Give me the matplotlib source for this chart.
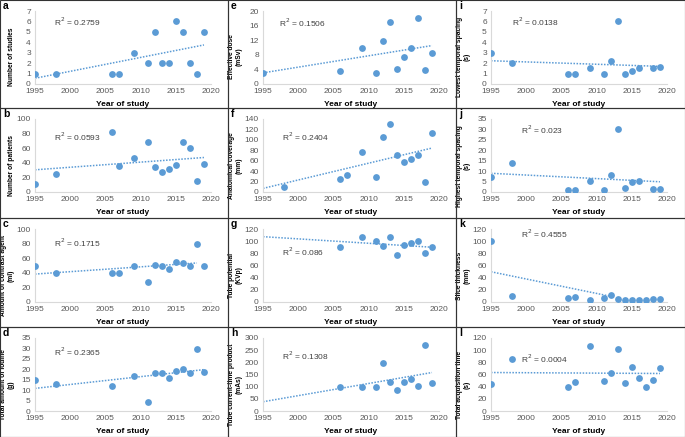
import numpy as np
import matplotlib.pyplot as plt
from matplotlib.patches import Rectangle

plt.rcParams['font.family'] = ['Liberation Sans', 'DejaVu Sans']

# datos de cada panel (año, valor)
yr_a = [1995, 1998, 2006, 2007, 2009, 2011, 2012, 2013, 2014, 2015, 2016, 2017, 2018, 2019]
val_a = [1, 1, 1, 1, 3, 2, 5, 2, 2, 6, 5, 2, 1, 5]

yr_b = [1995, 1998, 2006, 2007, 2009, 2011, 2012, 2013, 2014, 2015, 2016, 2017, 2018, 2019]
val_b = [11, 24, 82, 36, 47, 68, 34, 28, 32, 37, 68, 60, 15, 38]

yr_c = [1995, 1998, 2006, 2007, 2009, 2011, 2012, 2013, 2014, 2015, 2016, 2017, 2018, 2019]
val_c = [50, 40, 40, 40, 50, 27, 51, 50, 45, 55, 53, 50, 80, 50]

yr_d = [1995, 1998, 2006, 2009, 2011, 2012, 2013, 2014, 2015, 2016, 2017, 2018, 2019]
val_d = [15, 12.8, 12, 16.7, 4.5, 18, 18, 15.8, 19.3, 20.3, 18.3, 29.7, 18.6]

yr_e = [1995, 2006, 2009, 2011, 2012, 2013, 2014, 2015, 2016, 2017, 2018, 2019]
val_e = [3, 3.5, 10, 3, 11.8, 17, 4.2, 7.5, 10, 18.2, 3.8, 8.5]

yr_f = [1998, 2006, 2007, 2009, 2011, 2012, 2013, 2014, 2015, 2016, 2017, 2018, 2019]
val_f = [10, 24, 32, 77, 28, 105, 130, 70, 57, 63, 71, 19, 113]

yr_g = [2006, 2009, 2011, 2012, 2013, 2014, 2015, 2016, 2017, 2018, 2019]
val_g = [90, 107, 100, 92, 107, 77, 93, 97, 100, 80, 90]

yr_h = [2006, 2009, 2011, 2012, 2013, 2014, 2015, 2016, 2017, 2018, 2019]
val_h = [100, 99, 100, 196, 118, 87, 120, 133, 104, 270, 117]

yr_i = [1995, 1998, 2006, 2007, 2009, 2011, 2012, 2013, 2014, 2015, 2016, 2018, 2019]
val_i = [3, 2, 1, 1, 1.5, 1, 2.2, 6, 1, 1.25, 1.5, 1.5, 1.6]

yr_j = [1995, 1998, 2006, 2007, 2009, 2011, 2012, 2013, 2014, 2015, 2016, 2018, 2019]
val_j = [7, 14, 1, 1, 5.5, 1, 8.3, 30, 2, 5, 5.3, 1.5, 1.5]

yr_k = [1995, 1998, 2006, 2007, 2009, 2011, 2012, 2013, 2014, 2015, 2016, 2017, 2018, 2019]
val_k = [100, 10, 6, 8, 4, 7, 11, 5, 3, 3.5, 3, 3, 5, 5]

yr_l = [1995, 1998, 2006, 2007, 2009, 2011, 2012, 2013, 2014, 2015, 2016, 2017, 2018, 2019]
val_l = [44, 85, 40, 48, 107, 50, 62, 102, 46, 72, 54, 39, 51, 71]

# (letra, x, y, etiqueta, ymax, paso, texto R2, pos R2, fin de la tendencia, fila, columna)
paneles = [
    ('a', yr_a, val_a, 'Number of studies', 7, 1, 'R$^2$ = 0.2759', (0.11, 0.80), 2019, 0, 0),
    ('b', yr_b, val_b, 'Number of patients', 100, 20, 'R$^2$ = 0.0593', (0.11, 0.70), 2019, 1, 0),
    ('c', yr_c, val_c, 'Amount of contrast agent\n(ml)', 100, 20, 'R$^2$ = 0.1715', (0.11, 0.75), 2018, 2, 0),
    ('d', yr_d, val_d, 'Total amount of Iodine\n(g)', 35, 5, 'R$^2$ = 0.2365', (0.11, 0.75), 2019, 3, 0),
    ('e', yr_e, val_e, 'Effective dose\n(mSv)', 20, 4, 'R$^2$ = 0.1506', (0.09, 0.78), 2019, 0, 1),
    ('f', yr_f, val_f, 'Anatomical coverage\n(mm)', 140, 20, 'R$^2$ = 0.2404', (0.11, 0.70), 2019, 1, 1),
    ('g', yr_g, val_g, 'Tube potential\n(KVp)', 120, 20, 'R$^2$ = 0.086', (0.11, 0.63), 2019, 2, 1),
    ('h', yr_h, val_h, 'Tube current-time product\n(mAs)', 300, 50, 'R$^2$ = 0.1308', (0.11, 0.70), 2019, 3, 1),
    ('i', yr_i, val_i, 'Lowest temporal spacing\n(s)', 7, 1, 'R$^2$ = 0.0138', (0.12, 0.80), 2019, 0, 2),
    ('j', yr_j, val_j, 'Highest temporal spacing\n(s)', 35, 5, 'R$^2$ = 0.023', (0.17, 0.80), 2019, 1, 2),
    ('k', yr_k, val_k, 'Slice thickness\n(mm)', 120, 20, 'R$^2$ = 0.4555', (0.17, 0.88), 2012, 2, 2),
    ('l', yr_l, val_l, 'Total acquisition time\n(s)', 120, 20, 'R$^2$ = 0.0004', (0.17, 0.66), 2019, 3, 2),
]

W, H = 685, 437
azul = '#5B9BD5'
gris = '#D9D9D9'

fig = plt.figure(figsize=(W / 100, H / 100), dpi=100)

col_x = [0, 228, 456]
col_w = [228, 228, 229]
fila_y = [0, 108, 218, 327]
fila_h = [108, 110, 109, 110]

for letra, xs, ys, etiqueta, ymax, paso, r2, pos, fin, fila, col in paneles:
    px, py = col_x[col], fila_y[fila]
    pw, ph = col_w[col], fila_h[fila]
    # marco del panel
    fig.add_artist(Rectangle((px / W, 1 - (py + ph) / H), pw / W, ph / H,
                             transform=fig.transFigure, fill=False,
                             edgecolor='#333333', linewidth=0.8))
    fig.text((px + 3) / W, 1 - (py + 9) / H, letra, fontsize=7.5,
             fontweight='bold')

    left = px + 35
    ancho = 176
    top = py + 11
    alto = 73
    ax = fig.add_axes([left / W, 1 - (top + alto) / H, ancho / W, alto / H])

    ax.scatter(xs, ys, s=24, color=azul, zorder=3, linewidths=0)
    m, b = np.polyfit(xs, ys, 1)
    xt = np.array([1995, fin])
    ax.plot(xt, m * xt + b, linestyle=(0, (1, 1)), color=azul, linewidth=1.1)

    ax.set_xlim(1995, 2020)
    ax.set_ylim(0, ymax)
    ax.set_xticks([1995, 2000, 2005, 2010, 2015, 2020])
    ax.set_yticks(np.arange(0, ymax + paso / 2, paso))
    ax.tick_params(length=0, labelsize=6, colors='#595959', pad=3)
    for s in ['top', 'right']:
        ax.spines[s].set_visible(False)
    for s in ['left', 'bottom']:
        ax.spines[s].set_color(gris)
        ax.spines[s].set_linewidth(0.8)
    ax.set_xlabel('Year of study', fontsize=6, fontweight='bold', labelpad=4)
    ax.set_ylabel(etiqueta, fontsize=4.8, fontweight='bold',
                  linespacing=1.25)
    # centrar la etiqueta en la altura del panel
    yc = (top + alto - (py + ph / 2 + 3)) / alto
    ax.yaxis.set_label_coords(-0.115, yc)
    ax.text(pos[0], pos[1], r2, transform=ax.transAxes, fontsize=6,
            color='#404040')

plt.savefig('out.png', dpi=100)
